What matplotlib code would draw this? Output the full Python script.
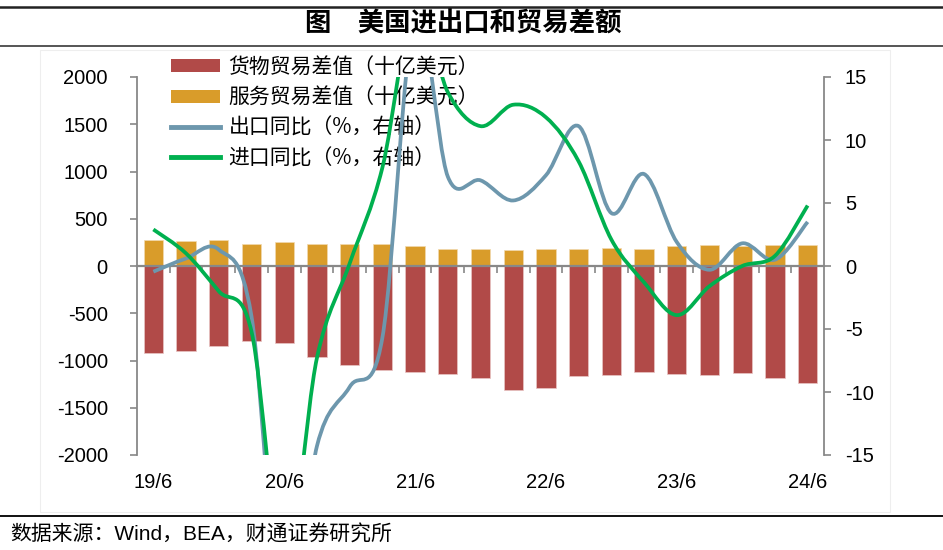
import numpy as np
import matplotlib
matplotlib.use("Agg")
import matplotlib.pyplot as plt
from matplotlib.path import Path
from matplotlib.patches import PathPatch, Patch, Rectangle
from matplotlib.lines import Line2D

# ---------------- data ----------------
quarters = ["19/6", "19/9", "19/12", "20/3", "20/6", "20/9", "20/12", "21/3",
            "21/6", "21/9", "21/12", "22/3", "22/6", "22/9", "22/12", "23/3",
            "23/6", "23/9", "23/12", "24/3", "24/6"]
tick_labels = ["19/6", "20/6", "21/6", "22/6", "23/6", "24/6"]
goods_balance = [-924, -903, -843, -797, -811, -966, -1044, -1097, -1125, -1146,
                 -1182, -1316, -1295, -1160, -1153, -1118, -1143, -1153, -1136,
                 -1185, -1235]
services_balance = [275, 268, 275, 236, 250, 233, 229, 233, 213, 176, 183, 173,
                    180, 176, 190, 183, 215, 222, 215, 226, 226]
export_yoy = [-0.45, 0.6, 1.3, -4.0, -30.0, -14.3, -9.6, -5.7, 20.0, 7.1, 6.8,
              5.2, 7.2, 11.1, 4.2, 7.3, 1.9, -0.3, 1.8, 0.5, 3.5]
import_yoy = [2.9, 1.0, -2.0, -5.2, -24.0, -7.3, 0.2, 7.8, 21.0, 13.8, 11.1,
              12.8, 11.8, 8.3, 2.1, -1.3, -3.9, -1.6, 0.0, 0.8, 4.8]

labels = ["货物贸易差值（十亿美元）", "服务贸易差值（十亿美元）",
          "出口同比（%，右轴）", "进口同比（%，右轴）"]
title = "图　美国进出口和贸易差额"
source = "数据来源：Wind，BEA，财通证券研究所"

RED = "#B14A48"
ORANGE = "#D99C2A"
BLUE = "#6D97AD"
GREEN = "#00B04F"
AXC = "#888888"

plt.rcParams["font.family"] = ["Liberation Sans", "Noto Sans CJK SC"]
plt.rcParams["axes.unicode_minus"] = False

W, H = 943, 550
fig = plt.figure(figsize=(W / 100, H / 100), dpi=100)

def fx(px):
    return px / W

def fy(py):
    return 1 - py / H

ax = fig.add_axes([fx(137), fy(455), fx(824) - fx(137), fy(77) - fy(455)])
ax2 = ax.twinx()

x = np.arange(len(quarters))
ax.bar(x, goods_balance, width=0.59, color=RED, edgecolor="#E9C6C5", linewidth=0.5, zorder=2)
ax.bar(x, services_balance, width=0.59, color=ORANGE, edgecolor="#F1D9AE", linewidth=0.5, zorder=2)

ax.set_xlim(-0.5, len(quarters) - 0.5)
ax.set_ylim(-2000, 2000)
ax.set_yticks(np.arange(-2000, 2001, 500))
ax2.set_ylim(-15, 15)
ax2.set_yticks(np.arange(-15, 16, 5))


def smooth_path(xs, ys):
    xs = np.asarray(xs, float)
    ys = np.asarray(ys, float)
    pts = np.column_stack([xs, ys])
    n = len(pts)
    verts = [pts[0]]
    codes = [Path.MOVETO]
    for i in range(n - 1):
        p0 = pts[i - 1] if i > 0 else pts[i]
        p1 = pts[i]
        p2 = pts[i + 1]
        p3 = pts[i + 2] if i + 2 < n else pts[i + 1]
        c1 = p1 + (p2 - p0) / 6.0
        c2 = p2 - (p3 - p1) / 6.0
        verts += [c1, c2, p2]
        codes += [Path.CURVE4] * 3
    return Path(verts, codes)


for ys, col in [(export_yoy, BLUE), (import_yoy, GREEN)]:
    patch = PathPatch(smooth_path(x, ys), facecolor="none", edgecolor=col,
                      linewidth=2.7, capstyle="butt", joinstyle="round", zorder=3)
    ax2.add_patch(patch)

# spines
for s in ["top", "right"]:
    ax.spines[s].set_visible(False)
for s in ["top", "left", "bottom"]:
    ax2.spines[s].set_visible(False)
ax.spines["left"].set_color(AXC)
ax.spines["left"].set_linewidth(1.3)
ax2.spines["right"].set_color(AXC)
ax2.spines["right"].set_linewidth(1.3)
ax.spines["bottom"].set_position(("data", 0))
ax.spines["bottom"].set_color(AXC)
ax.spines["bottom"].set_linewidth(1.6)
ax.spines["bottom"].set_zorder(2.5)

ax.set_xticks(np.arange(0.5, len(quarters) - 1, 1.0))
ax.tick_params(axis="x", direction="out", length=5, width=1.2, color=AXC,
               labelbottom=False)
ax.tick_params(axis="y", direction="out", length=5, width=1.2, color=AXC,
               labelsize=14.5, pad=16, labelcolor="black")
ax2.tick_params(axis="y", direction="out", length=5, width=1.2, color=AXC,
                labelsize=14.5, pad=10, labelcolor="black")

sec = ax.secondary_xaxis("bottom")
sec.set_xticks(x[::4], labels=tick_labels)
sec.tick_params(length=0, pad=13, labelsize=14.5)
sec.spines["bottom"].set_visible(False)

# legend
handles = [Patch(facecolor=RED, edgecolor="none"),
           Patch(facecolor=ORANGE, edgecolor="none"),
           Line2D([], [], color=BLUE, linewidth=3.5),
           Line2D([], [], color=GREEN, linewidth=3.5)]
leg = ax.legend(handles, labels, loc="upper left", bbox_to_anchor=(0.05, 1.055),
                frameon=False, borderpad=0, borderaxespad=0, handlelength=2.35,
                handleheight=0.58, handletextpad=0.4, labelspacing=0.4,
                prop={"family": ["Noto Sans CJK SC"], "size": 15})
leg.set_zorder(1)

# decorations
fig.add_artist(Rectangle((fx(40), fy(512)), fx(890) - fx(40), fy(50) - fy(512),
                         transform=fig.transFigure, fill=False, edgecolor="#EEEEEE",
                         linewidth=0.8))
fig.add_artist(Line2D([0, 1], [fy(7), fy(7)], transform=fig.transFigure,
                      color="#222222", linewidth=1.8))
fig.add_artist(Line2D([0, 1], [fy(45.5), fy(45.5)], transform=fig.transFigure,
                      color="#555555", linewidth=1.4))
fig.add_artist(Line2D([0, 1], [fy(515.5), fy(515.5)], transform=fig.transFigure,
                      color="#111111", linewidth=1.4))

fig.text(fx(463), fy(24), title, ha="center", va="center", fontsize=19,
         fontweight="bold", family=["Noto Sans CJK SC"])
fig.text(fx(10), fy(535), source, ha="left", va="center", fontsize=15,
         family=["Liberation Sans", "Noto Sans CJK SC"])

fig.savefig("out.png", dpi=100)
